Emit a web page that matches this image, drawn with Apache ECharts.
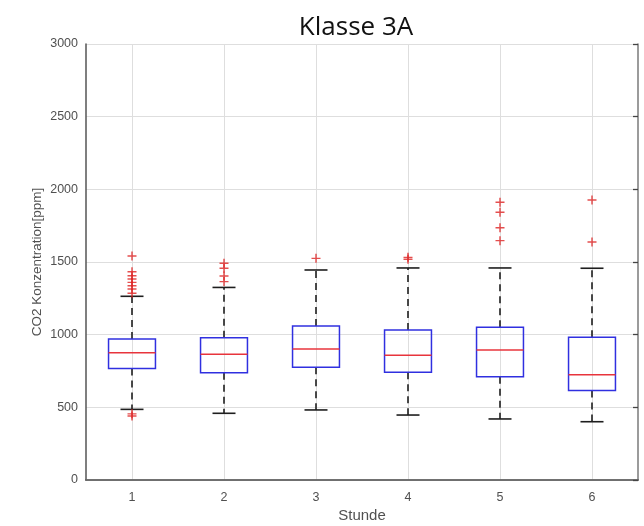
<!DOCTYPE html>
<html>
<head>
<meta charset="utf-8">
<script src="https://cdn.jsdelivr.net/npm/echarts@6/dist/echarts.min.js"></script>
<style>
  html, body { margin: 0; padding: 0; background: #fff; }
  #chart { width: 644px; height: 526px; }
</style>
</head>
<body>
<div id="chart"></div>
<script>
// Hourly CO2 concentration, class 3A
const stunden = ['1', '2', '3', '4', '5', '6'];
const whiskerLow = [486, 459, 482, 447, 420, 401];
const quartile1 = [768, 738, 775, 741, 711, 615];
const medianValues = [876, 865, 901, 858, 895, 725];
const quartile3 = [970, 979, 1060, 1032, 1051, 982];
const whiskerHigh = [1264, 1325, 1445, 1459, 1459, 1457];
// outliers: [hour index, ppm]
const ausreisser = [
  [0, 1541], [0, 1433], [0, 1406], [0, 1383], [0, 1360], [0, 1337], [0, 1314], [0, 1285], [0, 455], [0, 441],
  [1, 1491], [1, 1457], [1, 1404], [1, 1365],
  [2, 1525],
  [3, 1532], [3, 1519],
  [4, 1911], [4, 1842], [4, 1736], [4, 1647],
  [5, 1927], [5, 1638]
];
const yTicks = [0, 500, 1000, 1500, 2000, 2500, 3000];

const boxData = stunden.map((s, i) => [i, whiskerLow[i], quartile1[i], medianValues[i], quartile3[i], whiskerHigh[i]]);

const textColor = '#505050';
const font = '"Liberation Sans", Arial, sans-serif';

function renderBox(params, api) {
  const i = api.value(0);
  const pLow = api.coord([i, api.value(1)]);
  const pQ1 = api.coord([i, api.value(2)]);
  const pMed = api.coord([i, api.value(3)]);
  const pQ3 = api.coord([i, api.value(4)]);
  const pHigh = api.coord([i, api.value(5)]);
  const band = api.size([1, 0])[0];
  const half = band * 0.255;
  const cap = band * 0.125;
  const cx = pMed[0];
  const whisker = { stroke: '#1e1e1e', lineWidth: 1.6, lineDash: [7, 5], fill: null };
  const solid = { stroke: '#1e1e1e', lineWidth: 1.6, fill: null };
  return {
    type: 'group',
    children: [
      { type: 'line', shape: { x1: cx, y1: pQ3[1], x2: cx, y2: pHigh[1] }, style: whisker },
      { type: 'line', shape: { x1: cx, y1: pQ1[1], x2: cx, y2: pLow[1] }, style: whisker },
      { type: 'line', shape: { x1: cx - cap, y1: pHigh[1], x2: cx + cap, y2: pHigh[1] }, style: solid },
      { type: 'line', shape: { x1: cx - cap, y1: pLow[1], x2: cx + cap, y2: pLow[1] }, style: solid },
      { type: 'rect', shape: { x: cx - half, y: pQ3[1], width: half * 2, height: pQ1[1] - pQ3[1] },
        style: { stroke: '#3030e0', lineWidth: 1.5, fill: null } },
      { type: 'line', shape: { x1: cx - half, y1: pMed[1], x2: cx + half, y2: pMed[1] },
        style: { stroke: '#e8343c', lineWidth: 1.5 } }
    ]
  };
}

const chart = echarts.init(document.getElementById('chart'), null, { renderer: 'canvas' });
chart.setOption({
  animation: false,
  backgroundColor: '#fff',
  title: {
    text: 'Klasse 3A',
    left: 351,
    top: 10,
    textAlign: 'center',
    textStyle: { fontFamily: '"Open Sans", sans-serif', fontSize: 26, fontWeight: 'normal', color: '#111' }
  },
  grid: { left: 86, top: 44, width: 552, height: 436, outerBoundsMode: 'none', containLabel: false },
  xAxis: [
    {
      type: 'category',
      data: stunden,
      boundaryGap: true,
      name: 'Stunde',
      nameLocation: 'middle',
      nameGap: 28,
      nameMoveOverlap: false,
      nameTextStyle: { color: textColor, fontSize: 15, fontFamily: font },
      axisLine: { lineStyle: { color: '#222', width: 1.5 } },
      axisTick: { inside: true, alignWithLabel: true, length: 5, lineStyle: { color: '#333', width: 1.3 } },
      axisLabel: { color: textColor, fontSize: 12.5, fontFamily: font, margin: 11 },
      splitLine: { show: true, alignWithLabel: true, lineStyle: { color: '#dedede', width: 1 } }
    },
    {
      type: 'category',
      data: stunden,
      position: 'top',
      boundaryGap: true,
      axisLine: { lineStyle: { color: '#7a7a7a', width: 1.5 } },
      axisTick: { inside: true, alignWithLabel: true, length: 5, lineStyle: { color: '#444', width: 1.3 } },
      axisLabel: { show: false },
      splitLine: { show: false }
    }
  ],
  yAxis: [
    {
      type: 'value',
      min: yTicks[0],
      max: yTicks[yTicks.length - 1],
      interval: 500,
      name: 'CO2 Konzentration[ppm]',
      nameLocation: 'middle',
      nameGap: 42,
      nameMoveOverlap: false,
      nameTextStyle: { color: textColor, fontSize: 13.5, fontFamily: font },
      axisLine: { show: true, lineStyle: { color: '#555', width: 1.5 } },
      axisTick: { show: false },
      axisLabel: { color: textColor, fontSize: 12.5, fontFamily: font, margin: 8, formatter: v => String(v) },
      splitLine: { show: true, lineStyle: { color: '#dedede', width: 1 } }
    },
    {
      type: 'value',
      min: yTicks[0],
      max: yTicks[yTicks.length - 1],
      interval: 500,
      position: 'right',
      axisLine: { show: true, lineStyle: { color: '#7a7a7a', width: 1.5 } },
      axisTick: { show: true, inside: true, length: 5, lineStyle: { color: '#444', width: 1.3 } },
      axisLabel: { show: false },
      splitLine: { show: false }
    }
  ],
  series: [
    {
      type: 'custom',
      renderItem: renderBox,
      encode: { x: 0, y: [1, 2, 3, 4, 5] },
      data: boxData,
      z: 3
    },
    {
      type: 'scatter',
      data: ausreisser,
      symbol: 'path://M4.2,0H5.8V4.2H10V5.8H5.8V10H4.2V5.8H0V4.2H4.2Z',
      symbolSize: 9,
      itemStyle: { color: '#dd2222' },
      z: 4
    }
  ]
});
</script>
</body>
</html>
